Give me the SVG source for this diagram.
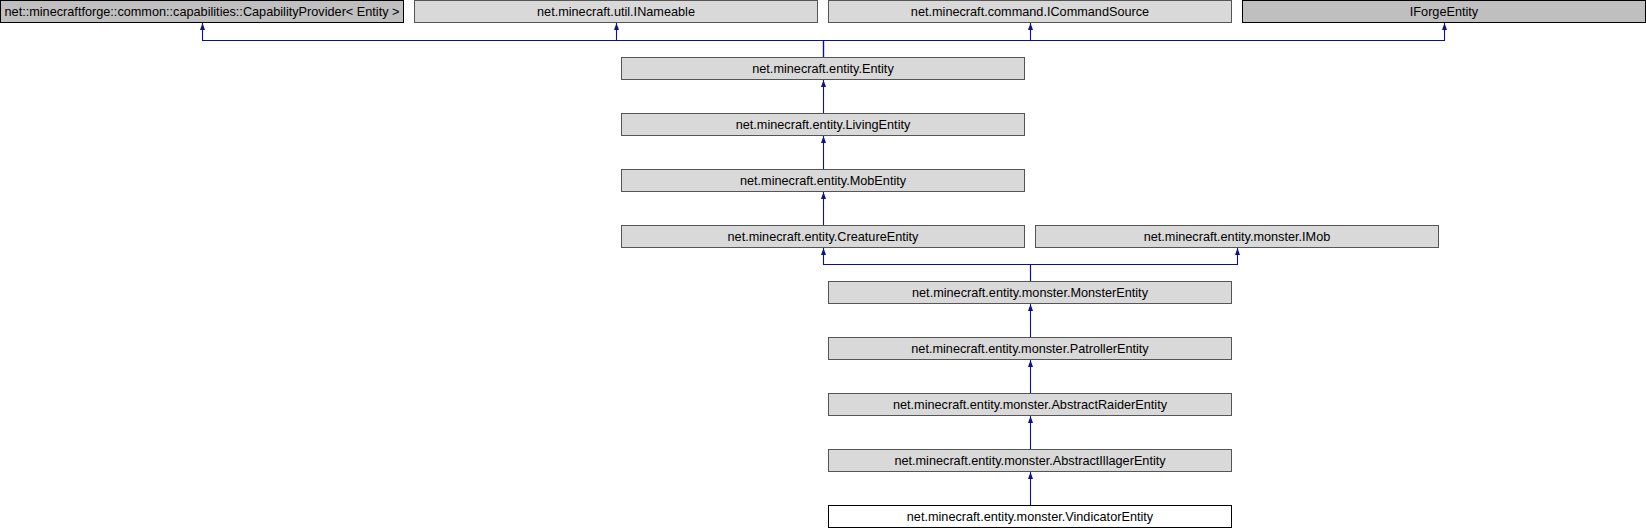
<svg xmlns="http://www.w3.org/2000/svg" width="1646" height="528" viewBox="0 0 1646 528">
<style>
.n{fill:#d9d9d9;stroke:#555555;stroke-width:1}
.x{fill:#bfbfbf;stroke:#000000;stroke-width:1}
.c{fill:#ffffff;stroke:#000000;stroke-width:1}
text{font-family:"Liberation Sans",Arial,Helvetica,sans-serif;font-size:12.7px;fill:#000000;text-anchor:middle}
.e{fill:none;stroke:#10108c;stroke-width:1.1}
</style>
<defs>
<marker id="a" viewBox="0 0 7 5" refX="7" refY="2.5" markerWidth="7" markerHeight="5" markerUnits="userSpaceOnUse" orient="auto">
<path d="M0,0 L7,2.5 L0,5 Z" fill="#10108c"/>
</marker>
</defs>
<g id="connectors">
<path class="e" marker-end="url(#a)" d="M823.5,57 V40.5 H202.5 V23"/>
<path class="e" marker-end="url(#a)" d="M823.5,57 V40.5 H616.5 V23"/>
<path class="e" marker-end="url(#a)" d="M823.5,57 V40.5 H1030.5 V23"/>
<path class="e" marker-end="url(#a)" d="M823.5,57 V40.5 H1444.5 V23"/>
<path class="e" marker-end="url(#a)" d="M823.5,113 V80"/>
<path class="e" marker-end="url(#a)" d="M823.5,169 V136"/>
<path class="e" marker-end="url(#a)" d="M823.5,225 V192"/>
<path class="e" marker-end="url(#a)" d="M1030.5,281 V264.5 H823.5 V248"/>
<path class="e" marker-end="url(#a)" d="M1030.5,281 V264.5 H1237.5 V248"/>
<path class="e" marker-end="url(#a)" d="M1030.5,337 V304"/>
<path class="e" marker-end="url(#a)" d="M1030.5,393 V360"/>
<path class="e" marker-end="url(#a)" d="M1030.5,449 V416"/>
<path class="e" marker-end="url(#a)" d="M1030.5,505 V472"/>
</g>
<g id="node_capabilityprovider"><rect class="x" x="0.5" y="0.5" width="403" height="22"/><text x="202" y="15.5">net::minecraftforge::common::capabilities::CapabilityProvider&lt; Entity &gt;</text></g>
<g id="node_inameable"><rect class="n" x="414.5" y="0.5" width="403" height="22"/><text x="616" y="15.5">net.minecraft.util.INameable</text></g>
<g id="node_icommandsource"><rect class="n" x="828.5" y="0.5" width="403" height="22"/><text x="1030" y="15.5">net.minecraft.command.ICommandSource</text></g>
<g id="node_iforgeentity"><rect class="x" x="1242.5" y="0.5" width="403" height="22"/><text x="1444" y="15.5">IForgeEntity</text></g>
<g id="node_entity"><rect class="n" x="621.5" y="57.5" width="403" height="22"/><text x="823" y="72.5">net.minecraft.entity.Entity</text></g>
<g id="node_livingentity"><rect class="n" x="621.5" y="113.5" width="403" height="22"/><text x="823" y="128.5">net.minecraft.entity.LivingEntity</text></g>
<g id="node_mobentity"><rect class="n" x="621.5" y="169.5" width="403" height="22"/><text x="823" y="184.5">net.minecraft.entity.MobEntity</text></g>
<g id="node_creatureentity"><rect class="n" x="621.5" y="225.5" width="403" height="22"/><text x="823" y="240.5">net.minecraft.entity.CreatureEntity</text></g>
<g id="node_imob"><rect class="n" x="1035.5" y="225.5" width="403" height="22"/><text x="1237" y="240.5">net.minecraft.entity.monster.IMob</text></g>
<g id="node_monsterentity"><rect class="n" x="828.5" y="281.5" width="403" height="22"/><text x="1030" y="296.5">net.minecraft.entity.monster.MonsterEntity</text></g>
<g id="node_patrollerentity"><rect class="n" x="828.5" y="337.5" width="403" height="22"/><text x="1030" y="352.5">net.minecraft.entity.monster.PatrollerEntity</text></g>
<g id="node_abstractraiderentity"><rect class="n" x="828.5" y="393.5" width="403" height="22"/><text x="1030" y="408.5">net.minecraft.entity.monster.AbstractRaiderEntity</text></g>
<g id="node_abstractillagerentity"><rect class="n" x="828.5" y="449.5" width="403" height="22"/><text x="1030" y="464.5">net.minecraft.entity.monster.AbstractIllagerEntity</text></g>
<g id="node_vindicatorentity"><rect class="c" x="828.5" y="505.5" width="403" height="22"/><text x="1030" y="520.5">net.minecraft.entity.monster.VindicatorEntity</text></g>
</svg>
